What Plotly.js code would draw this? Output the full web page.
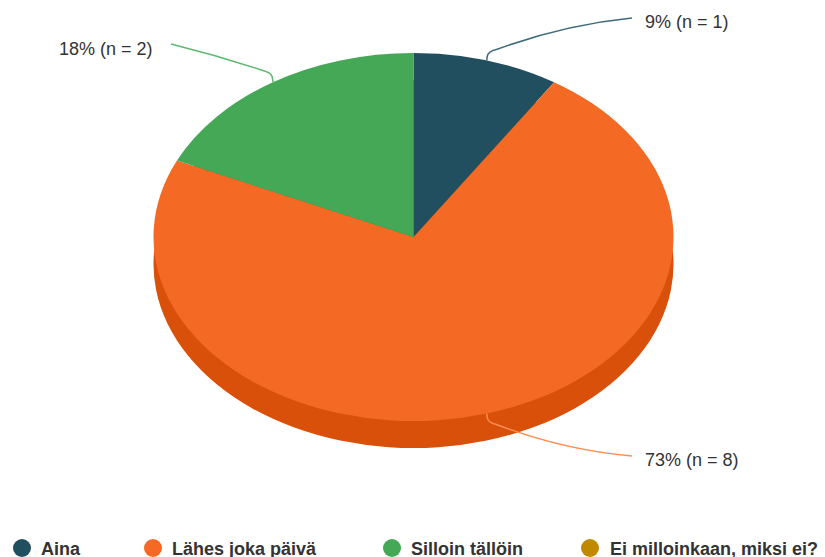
<!DOCTYPE html>
<html>
<head>
<meta charset="utf-8">
<script src="https://cdn.plot.ly/plotly-3.0.1.min.js"></script>
<style>html,body{margin:0;padding:0;background:#fff;overflow:hidden}#chart{width:825px;height:557px}</style>
</head>
<body>
<div id="chart"></div>
<script>
const categories = ["Aina", "Lähes joka päivä", "Silloin tällöin", "Ei milloinkaan, miksi ei?"];
const counts = [1, 8, 2, 0];
const percents = [9, 73, 18, 0];
const topColors = ["#224f5f", "#f46a24", "#44a856", "#c08a00"];
const sideColors = ["#1a3d4a", "#d9500a", "#35863f", "#96700a"];
const lineColors = ["#3d6b7b", "#ff8c55", "#5fb86f"];
const legendX = [22, 153, 392, 590];
const legendTextX = [39, 170, 409, 608];
const labelPos = [[643, 22, "left", 632, 18], [643, 460, "left", 632, 456], [155, 49, "right", 171, 44]];
const bend = [-9, 10, -2];

const W = 825, H = 557;
const cx = 413.5, cy = 237, r = 260, squash = 184 / 260, depth = 27;
const midY = H / 2;
const px = x => x / W, py = y => 1 - y / H;

const total = counts.reduce((a, b) => a + b, 0);
let running = 0;
const shapes = [], annotations = [];
counts.forEach((v, i) => {
  const a = (running + v / 2) / total * 2 * Math.PI;
  running += v;
  if (!v) return;
  const ax = cx + r * Math.sin(a), ay = cy - r * squash * Math.cos(a);
  const p = labelPos[i];
  const dir = Math.cos(a) >= 0 ? -1 : 1;
  const side = Math.sign(p[3] - ax);
  const kneeX = ax + side * 1, kneeY = ay + dir * 9;
  const t = 0.06;
  const qx = kneeX + (p[3] - kneeX) * t, qy = kneeY + (p[4] - kneeY) * t;
  const cX = (qx + p[3]) / 2, cY = (qy + p[4]) / 2 + bend[i];
  shapes.push({
    type: "path", xref: "paper", yref: "paper", layer: "above",
    path: `M${px(ax)},${py(ay)} L${px(ax + side * 0.5)},${py(ay + dir * 4)} Q${px(kneeX)},${py(kneeY)} ${px(qx)},${py(qy)} Q${px(cX)},${py(cY)} ${px(p[3])},${py(p[4])}`,
    line: {color: lineColors[i], width: 1.5}
  });
  annotations.push({
    xref: "paper", yref: "paper", x: px(p[0]), y: py(p[1]), xanchor: p[2], yanchor: "middle",
    text: `${percents[i]}% (n = ${v})`, showarrow: false,
    font: {family: "Liberation Sans, Arial, sans-serif", size: 18, color: "#333333"}
  });
});

categories.forEach((c, i) => {
  shapes.push({
    type: "circle", xref: "paper", yref: "paper", layer: "above",
    x0: px(legendX[i] - 9), x1: px(legendX[i] + 9), y0: py(539), y1: py(557),
    fillcolor: topColors[i], line: {width: 0}
  });
  annotations.push({
    xref: "paper", yref: "paper", x: px(legendTextX[i]), y: py(549), xanchor: "left", yanchor: "middle",
    text: "<b>" + c + "</b>", showarrow: false,
    font: {family: "Liberation Sans, Arial, sans-serif", size: 18, color: "#333333"}
  });
});

const domain = {x: [px(cx - r), px(cx + r)], y: [(midY - r) / H, (midY + r) / H]};
const pieBase = {
  type: "pie", labels: categories, values: counts, sort: false, direction: "clockwise", rotation: 0,
  textinfo: "none", hoverinfo: "label+percent", domain: domain, showlegend: false
};
const traces = [
  Object.assign({}, pieBase, {marker: {colors: sideColors, line: {width: 0}}}),
  Object.assign({}, pieBase, {marker: {colors: topColors, line: {width: 0}}})
];
const layout = {
  width: W, height: H, margin: {l: 0, r: 0, t: 0, b: 0},
  paper_bgcolor: "#ffffff", showlegend: false, shapes: shapes, annotations: annotations
};
const gd = document.getElementById("chart");
function squashPies() {
  const groups = gd.querySelectorAll(".pielayer .trace");
  groups.forEach((g, i) => {
    const target = i === 0 ? cy + depth : cy;
    g.setAttribute("transform", `translate(0,${target - midY * squash}) scale(1,${squash})`);
  });
}
Plotly.newPlot(gd, traces, layout, {displayModeBar: false, staticPlot: true}).then(() => {
  squashPies();
  gd.on("plotly_afterplot", squashPies);
});
</script>
</body>
</html>
